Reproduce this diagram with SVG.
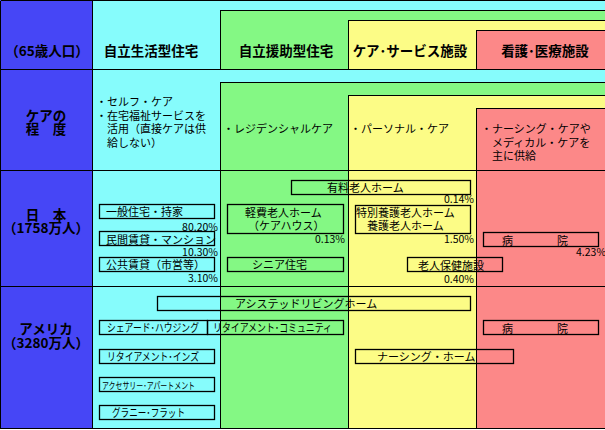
<svg xmlns="http://www.w3.org/2000/svg" width="605" height="430" viewBox="0 0 605 430">
<style>
text{font-family:"Noto Sans CJK JP","Noto Sans CJK SC",sans-serif;fill:#000;font-size:11px}
.h{font-size:13.5px;font-weight:bold;text-anchor:middle}
.p{text-anchor:end;font-size:10.5px}
.bx{fill:none;stroke:#000;stroke-width:1.3}
.ln{stroke:#000;stroke-width:1;fill:none}
.b{fill:#4646f6}
.c{fill:#86fcfc}
.g{fill:#84f884}
.y{fill:#fcfc86}
.r{fill:#fc8888}
</style>
<g id="background" shape-rendering="crispEdges">
<rect class="b" x="0" y="0" width="92" height="429"/>
<rect class="c" x="92" y="0" width="513" height="429"/>
<rect class="g" x="220" y="10" width="385" height="59"/>
<rect class="y" x="348" y="20" width="257" height="49"/>
<rect class="r" x="476" y="30" width="129" height="39"/>
<rect class="g" x="220" y="82" width="385" height="88"/>
<rect class="y" x="348" y="95" width="257" height="75"/>
<rect class="r" x="476" y="108" width="129" height="62"/>
<rect class="g" x="220" y="170" width="128" height="259"/>
<rect class="y" x="348" y="170" width="128" height="259"/>
<rect class="r" x="476" y="170" width="129" height="259"/>
</g>
<g id="grid" shape-rendering="crispEdges">
<path class="ln" d="M0.5 0.5H605M0.5 0.5V428.5M0 428.5H605M0 69.5H605M0 170.5H605M0 286.5H605M92.5 0V429"/>
<path class="ln" d="M220.5 69V10.5H605M348.5 69V20.5H605M476.5 69V30.5H605"/>
<path class="ln" d="M220.5 170V82.5H605M348.5 170V95.5H605M476.5 170V108.5H605"/>
<path class="ln" d="M220.5 170V429M348.5 170V429M476.5 170V429"/>
</g>
<g id="headers">
<text class="h" x="47" y="56">（65歳人口）</text>
<text class="h" x="151" y="56">自立生活型住宅</text>
<text class="h" x="286" y="56">自立援助型住宅</text>
<text class="h" x="410" y="56">ケア･サービス施設</text>
<text class="h" x="545" y="56">看護･医療施設</text>
</g>
<g id="care-row">
<text class="h"><tspan x="46" y="121">ケアの</tspan><tspan x="46" y="134">程　度</tspan></text>
<text><tspan x="96" y="106">・セルフ・ケア</tspan><tspan x="96" y="119.5">・在宅福祉サービスを</tspan><tspan x="107" y="133">活用（直接ケアは供</tspan><tspan x="107" y="146.5">給しない）</tspan></text>
<text x="223" y="133">・レジデンシャルケア</text>
<text x="350" y="133">・パーソナル・ケア</text>
<text><tspan x="481" y="133">・ナーシング・ケアや</tspan><tspan x="492" y="146.5">メディカル・ケアを</tspan><tspan x="492" y="160">主に供給</tspan></text>
</g>
<g id="japan-label">
<text class="h"><tspan x="46" y="220">日　本</tspan><tspan x="46" y="233">（1758万人）</tspan></text>
</g>
<g id="jp-ippan"><rect class="bx" x="99.5" y="204.5" width="115" height="14"/><text x="106" y="216">一般住宅・持家</text><text class="p" x="218" y="231">80.20%</text></g>
<g id="jp-minkan"><rect class="bx" x="99.5" y="231.5" width="115" height="14"/><text x="106" y="243.5">民間賃貸・マンション</text><text class="p" x="218" y="256">10.30%</text></g>
<g id="jp-kokyo"><rect class="bx" x="99.5" y="257.5" width="115" height="14"/><text x="106" y="269">公共賃貸（市営等）</text><text class="p" x="218" y="282">3.10%</text></g>
<g id="jp-keihi"><rect class="bx" x="227.5" y="204.5" width="116" height="29"/><text><tspan x="245" y="216.5">軽費老人ホーム</tspan><tspan x="248" y="230">（ケアハウス）</tspan></text><text class="p" x="345" y="243">0.13%</text></g>
<g id="jp-senior"><rect class="bx" x="227.5" y="257.5" width="116" height="14"/><text x="252" y="269">シニア住宅</text></g>
<g id="jp-yuryo"><rect class="bx" x="291.5" y="180.5" width="179" height="14"/><text x="327" y="192">有料老人ホーム</text><text class="p" x="474" y="203">0.14%</text></g>
<g id="jp-tokuyo"><rect class="bx" x="355.5" y="205.5" width="115" height="28"/><text><tspan x="356" y="217">特別養護老人ホーム</tspan><tspan x="367" y="230">養護老人ホーム</tspan></text><text class="p" x="474" y="243">1.50%</text></g>
<g id="jp-byoin"><rect class="bx" x="483.5" y="232.5" width="115" height="14"/><text x="502" y="244.5" xml:space="preserve">病　　　　院</text><text x="576" y="256" style="font-size:10.5px">4.23%</text></g>
<g id="jp-roken"><rect class="bx" x="407.5" y="257.5" width="95" height="14"/><text x="418" y="269.5">老人保健施設</text><text class="p" x="474" y="283">0.40%</text></g>
<g id="us-label">
<text class="h"><tspan x="46" y="334">アメリカ</tspan><tspan x="46" y="348">（3280万人）</tspan></text>
</g>
<g id="us-assisted"><rect class="bx" x="157.5" y="296.5" width="313" height="14"/><text x="235" y="308">アシステッドリビングホーム</text></g>
<g id="us-shared"><rect class="bx" x="99.5" y="320.5" width="108" height="14"/><text x="107" y="332" textLength="92" lengthAdjust="spacingAndGlyphs">シェアード･ハウジング</text></g>
<g id="us-community"><rect class="bx" x="207.5" y="320.5" width="136" height="14"/><text x="213" y="332" textLength="119" lengthAdjust="spacingAndGlyphs">リタイアメント･コミュニティ</text></g>
<g id="us-inns"><rect class="bx" x="99.5" y="349.5" width="115" height="14"/><text x="107" y="361" textLength="92" lengthAdjust="spacingAndGlyphs">リタイアメント･インズ</text></g>
<g id="us-accessory"><rect class="bx" x="99.5" y="377.5" width="115" height="14"/><text x="102" y="388.5" style="font-size:9.5px" textLength="93" lengthAdjust="spacingAndGlyphs">アクセサリー･アパートメント</text></g>
<g id="us-granny"><rect class="bx" x="99.5" y="405.5" width="115" height="14"/><text x="112" y="417" textLength="73" lengthAdjust="spacingAndGlyphs">グラニー･フラット</text></g>
<g id="us-byoin"><rect class="bx" x="483.5" y="320.5" width="115" height="14"/><text x="502" y="332.5" xml:space="preserve">病　　　　院</text></g>
<g id="us-nursing"><rect class="bx" x="355.5" y="349.5" width="158" height="14"/><text x="377" y="361">ナーシング・ホーム</text></g>
<g id="connectors"></g>
</svg>
